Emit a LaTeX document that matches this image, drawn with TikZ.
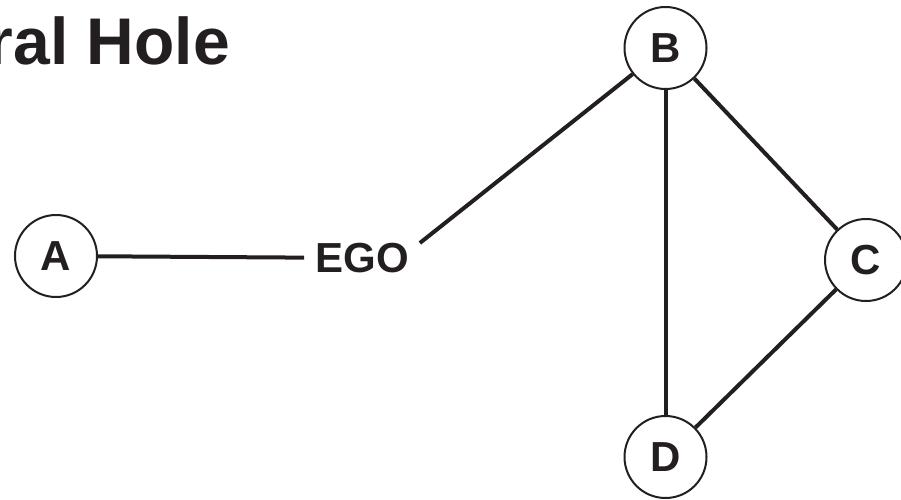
\documentclass[tikz,border=0pt]{standalone}
\usepackage{fontspec}
\setmainfont{Liberation Sans}
\definecolor{ink}{RGB}{35,31,32}
\begin{document}
\begin{tikzpicture}[x=1pt,y=1pt,
  actor/.style={circle,draw=ink,line width=2pt,minimum size=82pt,inner sep=0pt,
                font=\fontsize{42}{42}\selectfont\bfseries,text=ink},
  egonode/.style={inner xsep=11pt,inner ysep=4pt,font=\fontsize{42}{42}\selectfont\bfseries,text=ink},
  tie/.style={draw=ink,line width=4pt}]
\useasboundingbox (0,0) rectangle (901,499);
% title
\node[anchor=base east,inner sep=0pt,font=\fontsize{66}{66}\selectfont\bfseries,text=ink]
  (title) at (230,434) {ral Hole};
% actors
\node[actor] (A) at (56,243) {A};
\node[egonode] (EGO) at (362,241) {EGO};
\node[actor] (B) at (665.5,451) {B};
\node[actor] (C) at (866,239) {C};
\node[actor] (D) at (665.5,42) {D};
% ties
\draw[tie] (A) -- (EGO);
\draw[tie] ([yshift=15pt]EGO.east) -- (B);
\draw[tie] (B) -- (D);
\draw[tie] (B) -- (C);
\draw[tie] (C) -- (D);
\end{tikzpicture}
\end{document}
